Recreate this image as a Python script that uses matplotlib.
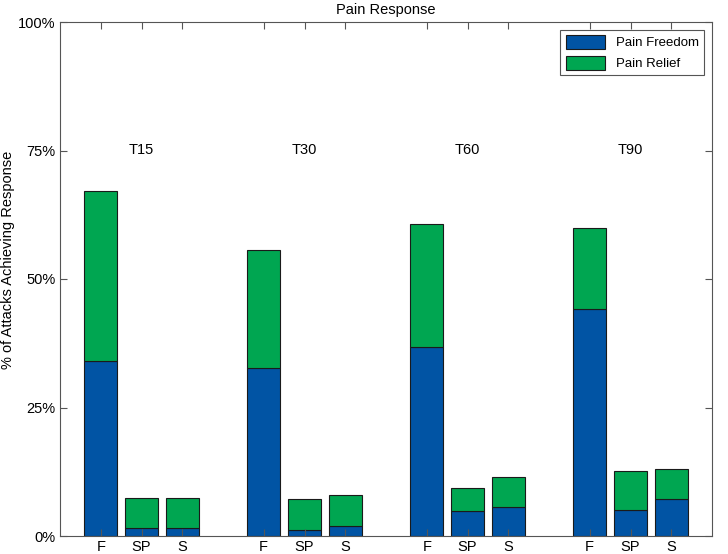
import numpy as np
import matplotlib.pyplot as plt

plt.rcParams['font.family'] = ['Liberation Sans', 'DejaVu Sans']

grupos = ['T15', 'T30', 'T60', 'T90']
etiquetas = ['F', 'SP', 'S']
# valores en % por grupo (F, SP, S)
freedom = [34.1, 1.5, 1.5,
           32.7, 1.2, 1.95,
           36.8, 4.9, 5.7,
           44.2, 5.0, 7.2]
total = [67.1, 7.3, 7.4,
         55.6, 7.2, 8.0,
         60.7, 9.3, 11.5,
         60.0, 12.6, 13.0]

AZUL = '#0154a4'
VERDE = '#00a651'

posiciones = []
for g in range(len(grupos)):
    for k in range(len(etiquetas)):
        posiciones.append(1 + 4 * g + k)
posiciones = np.array(posiciones)
relief = np.array(total) - np.array(freedom)

fig = plt.figure(figsize=(7.28, 5.54), dpi=100)
ax = fig.add_axes([60 / 728, 18 / 554, 652 / 728, 514 / 554])

ax.bar(posiciones, freedom, width=0.8, color=AZUL, edgecolor='#1a1a1a',
       linewidth=0.8, label='Pain Freedom')
ax.bar(posiciones, relief, width=0.8, bottom=freedom, color=VERDE,
       edgecolor='#1a1a1a', linewidth=0.8, label='Pain Relief')

for g, nombre in enumerate(grupos):
    ax.text(2 + 4 * g, 75, nombre, ha='center', va='center', fontsize=10.5)

ax.set_xlim(0, 16)
ax.set_ylim(0, 100)
ax.set_xticks(posiciones)
ax.set_xticklabels(etiquetas * len(grupos), fontsize=10.5)
ax.set_yticks([0, 25, 50, 75, 100])
ax.set_yticklabels(['0%', '25%', '50%', '75%', '100%'], fontsize=10.5)
ax.tick_params(direction='in', length=5, top=True, right=True,
               color='#555555', pad=3)
for s in ax.spines.values():
    s.set_color('#555555')
    s.set_linewidth(0.8)

ax.set_ylabel('% of Attacks Achieving Response', fontsize=10.5)
ax.yaxis.set_label_coords(-0.069, 0.537)
ax.set_title('Pain Response', fontsize=10.5, pad=6)

leg = ax.legend(loc='upper right', fontsize=9.5, fancybox=False,
                edgecolor='#555555', framealpha=1, handlelength=3.0,
                handleheight=1.2, borderaxespad=0.6)
leg.get_frame().set_linewidth(0.8)

fig.savefig('out.png', dpi=100)
